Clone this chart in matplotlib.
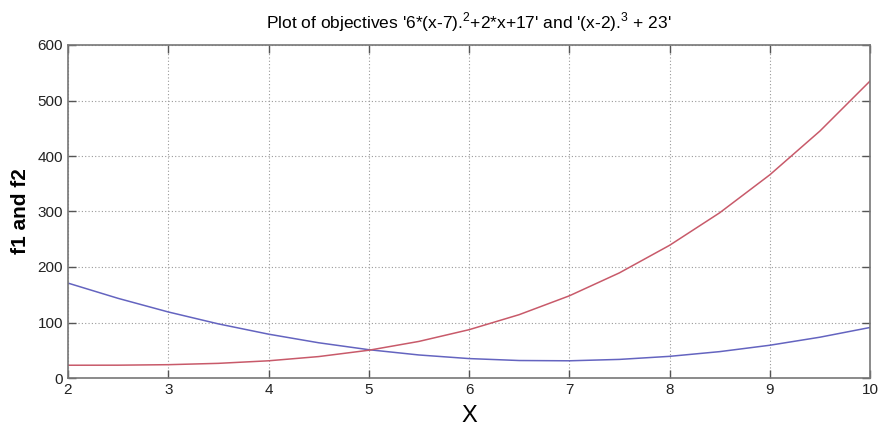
import matplotlib.pyplot as plt

x = [2, 2.5, 3, 3.5, 4, 4.5, 5, 5.5, 6, 6.5, 7, 7.5, 8, 8.5, 9, 9.5, 10]
f1 = [171, 143.5, 119, 97.5, 79, 63.5, 51, 41.5, 35, 31.5, 31, 33.5, 39,
      47.5, 59, 73.5, 91]
f2 = [23, 23.1, 24, 26.4, 31, 38.6, 50, 65.9, 87, 114.1, 148, 189.4, 239,
      297.6, 366, 444.9, 535]
xticks = [2, 3, 4, 5, 6, 7, 8, 9, 10]
yticks = [0, 100, 200, 300, 400, 500, 600]

plt.rcParams['font.family'] = ['Liberation Sans', 'DejaVu Sans']
plt.rcParams['mathtext.fontset'] = 'custom'
plt.rcParams['mathtext.rm'] = 'Liberation Sans'

fig = plt.figure(figsize=(8.82, 4.38), dpi=100)
ax = fig.add_axes([68 / 882, 1 - 378 / 438, (870 - 68) / 882, (378 - 45) / 438])

ax.plot(x, f1, color='#6464c0', lw=1.1)
ax.plot(x, f2, color='#c85a6a', lw=1.1)

ax.set_xlim(2, 10)
ax.set_ylim(0, 600)
ax.set_xticks(xticks)
ax.set_yticks(yticks)
ax.grid(True, linestyle=(0, (1, 2)), color='#999999', lw=0.8)
ax.tick_params(direction='in', length=6, width=1, colors='#555555',
               labelcolor='#222222', labelsize=11, top=True, right=True)
for s in ax.spines.values():
    s.set_color('#777777')
    s.set_linewidth(1.2)

ax.set_title("Plot of objectives '6*(x-7).$^\\mathrm{2}$+2*x+17' and "
             "'(x-2).$^\\mathrm{3}$ + 23'", fontsize=12.5, pad=12)
ax.set_xlabel('X', fontsize=17, labelpad=6)
ax.set_ylabel('f1 and f2', fontsize=15, fontweight='bold')
ax.yaxis.set_label_coords(-0.048, 0.5)

plt.savefig('out.png', dpi=100)
